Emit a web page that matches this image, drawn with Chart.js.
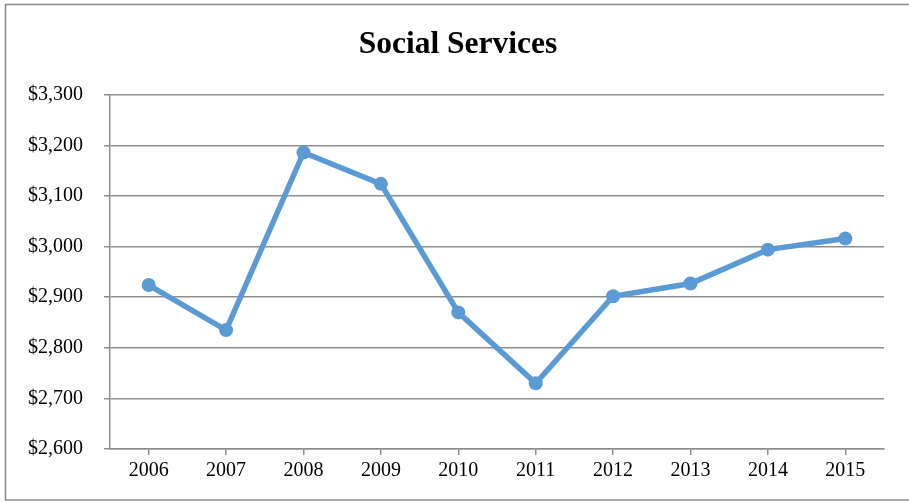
<!DOCTYPE html>
<html>
<head>
<meta charset="utf-8">
<title>Social Services</title>
<script src="https://cdn.jsdelivr.net/npm/chart.js@4/dist/chart.umd.min.js"></script>
<style>
    html, body { margin: 0; padding: 0; background: #fff; }
    #wrap { width: 909px; height: 502px; position: relative; }
</style>
</head>
<body>
<div id="wrap"><canvas id="servicesChart"></canvas></div>
<script>
// Yearly spending on social services
const years = ['2006', '2007', '2008', '2009', '2010', '2011', '2012', '2013', '2014', '2015'];
const spending = [2924, 2835, 3186, 3124, 2870, 2730, 2902, 2927, 2994, 3016];
const yTicks = [2600, 2700, 2800, 2900, 3000, 3100, 3200, 3300];

const serif = "'Liberation Serif', 'Times New Roman', serif";
const gridGray = '#8e8e8e';

// white page with a thin frame around the chart
const framePlugin = {
    id: 'frame',
    afterLayout(chart) {
        // nudge the title a little right of the canvas centre
        if (chart.titleBlock) chart.titleBlock.left += 32;
    },
    beforeDraw(chart) {
        const ctx = chart.ctx;
        ctx.save();
        ctx.fillStyle = '#fff';
        ctx.fillRect(0, 0, chart.width, chart.height);
        ctx.strokeStyle = '#8a8a8a';
        ctx.lineWidth = 1.5;
        ctx.strokeRect(5.5, 4.5, 920, 495.5);
        ctx.restore();
    }
};

const ctx = document.getElementById('servicesChart').getContext('2d');
new Chart(ctx, {
    type: 'line',
    data: {
        labels: years,
        datasets: [{
            label: 'Social Services',
            data: spending,
            borderColor: '#5b9bd5',
            backgroundColor: '#5b9bd5',
            borderWidth: 5.5,
            pointRadius: 7,
            pointBorderWidth: 0,
            pointBackgroundColor: '#5b9bd5',
            tension: 0,
            fill: false
        }]
    },
    options: {
        responsive: true,
        maintainAspectRatio: false,
        animation: false,
        layout: { padding: { left: 0, right: 25, top: 0, bottom: 0 } },
        plugins: {
            legend: { display: false },
            tooltip: { enabled: false },
            title: {
                display: true,
                text: 'Social Services',
                color: '#000',
                font: { family: serif, size: 31.5, weight: 'bold', lineHeight: 1.2 },
                padding: { top: 26, bottom: 31 }
            }
        },
        scales: {
            x: {
                offset: true,
                grid: {
                    drawOnChartArea: false,
                    drawTicks: true,
                    tickLength: 6,
                    color: gridGray,
                    lineWidth: 1.5
                },
                border: { display: true, color: gridGray, width: 1.5 },
                ticks: {
                    color: '#000',
                    padding: 4,
                    maxRotation: 0,
                    font: { family: serif, size: 20 }
                },
                afterFit: s => { s.height = 53; }
            },
            y: {
                min: 2600,
                max: 3300,
                afterBuildTicks: s => { s.ticks = yTicks.map(v => ({ value: v })); },
                grid: {
                    color: gridGray,
                    lineWidth: 1.5,
                    drawTicks: true,
                    tickLength: 6
                },
                border: { display: true, color: gridGray, width: 1.5 },
                ticks: {
                    color: '#000',
                    padding: 21,
                    font: { family: serif, size: 20 },
                    callback: v => '$' + v.toLocaleString('en-US')
                },
                afterFit: s => { s.width = 110; }
            }
        }
    },
    plugins: [framePlugin]
});
</script>
</body>
</html>
